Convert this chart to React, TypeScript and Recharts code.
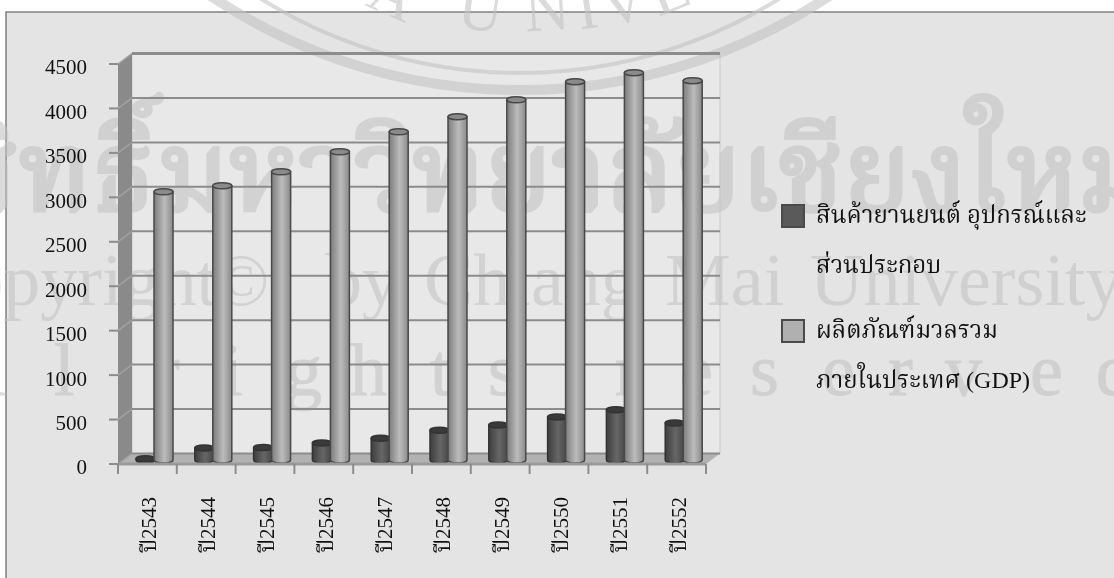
import { Bar, BarChart, CartesianGrid, Legend, XAxis, YAxis } from 'recharts';

const years = ['ปี2543', 'ปี2544', 'ปี2545', 'ปี2546', 'ปี2547', 'ปี2548', 'ปี2549', 'ปี2550', 'ปี2551', 'ปี2552'];
const autoParts = [15, 135, 140, 190, 245, 335, 395, 485, 565, 415];
const gdp = [3018, 3085, 3243, 3468, 3693, 3862, 4053, 4256, 4357, 4267];
const yTicks = [0, 500, 1000, 1500, 2000, 2500, 3000, 3500, 4000, 4500];
const autoPartsName = ['สินค้ายานยนต์ อุปกรณ์และ', 'ส่วนประกอบ'];
const gdpName = ['ผลิตภัณฑ์มวลรวม', 'ภายในประเทศ (GDP)'];

const watermarkThai = 'ลิขสิทธิ์มหาวิทยาลัยเชียงใหม่';
const watermarkWords: [string, number][] = [
  ['Copyright', -83], ['©', 213], ['by', 325], ['Chiang', 424], ['Mai', 665], ['University', 810],
];
const watermarkLetters: [string, number][] = [
  ['l', -14], ['l', 54], ['r', 155], ['i', 222], ['g', 285], ['h', 350], ['t', 430], ['s', 488],
  ['r', 615], ['e', 680], ['s', 750], ['e', 822], ['r', 888], ['v', 945], ['e', 1030], ['d', 1096],
];
const sealLetters: [string, number, number, number][] = [
  ['A', 385, 14, 24], ['U', 478, 30, 8], ['N', 548, 30, -3], ['I', 590, 28, -8], ['V', 628, 22, -14], ['E', 676, 10, -22],
];

const SERIF = '"Liberation Serif", "Noto Serif Thai", serif';
const W = 1114;
const H = 578;
// front plane of the 3D box
const LEFT = 118;
const RIGHT = 706;
const TOP = 64;
const BOTTOM = 464;
const DEPTH_X = 14;
const DEPTH_Y = -10.5;

const Backdrop = () => (
  <svg width={W} height={H} style={{ position: 'absolute', left: 0, top: 0 }}>
    <rect x={6} y={12} width={W} height={H} fill="#e4e4e4" stroke="#808080" strokeWidth={1.5} />
    <polygon
      points={`${LEFT + DEPTH_X},${TOP + DEPTH_Y} ${RIGHT + DEPTH_X},${TOP + DEPTH_Y} ${RIGHT + DEPTH_X},${BOTTOM + DEPTH_Y} ${LEFT + DEPTH_X},${BOTTOM + DEPTH_Y}`}
      fill="#e8e8e8"
      stroke="#c8c8c8"
    />
    {/* seal and ownership text printed across the page */}
    <g fill="none" stroke="#c4c4c4" opacity={0.6}>
      <circle cx={520} cy={-465} r={555} strokeWidth={10} />
      <circle cx={520} cy={-416} r={489} strokeWidth={4} />
    </g>
    <g fontFamily={SERIF} fill="#c4c4c4" opacity={0.6}>
      {sealLetters.map(([ch, x, y, angle]) => (
        <text key={ch} x={x} y={y} fontSize={62} textAnchor="middle" transform={`rotate(${angle} ${x} ${y})`}>
          {ch}
        </text>
      ))}
      <text x={1150} y={210} fontSize={112} textAnchor="end" stroke="#c4c4c4" strokeWidth={4}>
        {watermarkThai}
      </text>
      {watermarkWords.map(([word, x]) => (
        <text key={word} x={x} y={305} fontSize={74}>
          {word}
        </text>
      ))}
      {watermarkLetters.map(([ch, x], i) => (
        <text key={i} x={x} y={395} fontSize={74} stroke="#c4c4c4" strokeWidth={1}>
          {ch}
        </text>
      ))}
    </g>
    <polygon
      points={`${LEFT},${TOP} ${LEFT + DEPTH_X},${TOP + DEPTH_Y} ${LEFT + DEPTH_X},${BOTTOM + DEPTH_Y} ${LEFT},${BOTTOM}`}
      fill="#8a8a8a"
    />
    <polygon
      points={`${LEFT},${BOTTOM} ${LEFT + DEPTH_X},${BOTTOM + DEPTH_Y} ${RIGHT + DEPTH_X},${BOTTOM + DEPTH_Y} ${RIGHT},${BOTTOM}`}
      fill="#b2b2b2"
    />
  </svg>
);

// gridlines run along the back wall, with a faint diagonal across the side wall
const backGridLine = (props: any) => (
  <g key={props.key ?? props.y1}>
    <line x1={props.x1} y1={props.y1} x2={props.x1 + DEPTH_X} y2={props.y1 + DEPTH_Y} stroke="#a0a0a0" strokeWidth={1.5} />
    <line
      x1={props.x1 + DEPTH_X}
      y1={props.y1 + DEPTH_Y}
      x2={props.x2 + DEPTH_X}
      y2={props.y2 + DEPTH_Y}
      stroke="#8c8c8c"
      strokeWidth={props.y1 === TOP ? 3 : 2}
    />
  </g>
);

const Cylinder = (props: any) => {
  const { x, y, width, height, gradient, cap, edge } = props;
  const left = x + 7;
  const right = left + width;
  const top = y - 4;
  const bottom = top + height;
  const ry = 3;
  return (
    <g>
      <path
        d={`M${left},${top} L${left},${bottom} A${width / 2},${ry} 0 0 0 ${right},${bottom} L${right},${top} Z`}
        fill={`url(#${gradient})`}
        stroke={edge}
        strokeWidth={1.5}
      />
      <ellipse cx={left + width / 2} cy={top} rx={width / 2} ry={ry} fill={cap} stroke={edge} strokeWidth={1.5} />
    </g>
  );
};

const YearTick = (props: any) => {
  const { x, index, payload } = props;
  const band = (RIGHT - LEFT) / years.length;
  return (
    <g>
      <line x1={x - band / 2} y1={BOTTOM} x2={x - band / 2} y2={BOTTOM + 10} stroke="#8c8c8c" strokeWidth={2} />
      {index === years.length - 1 && (
        <line x1={x + band / 2} y1={BOTTOM} x2={x + band / 2} y2={BOTTOM + 10} stroke="#8c8c8c" strokeWidth={2} />
      )}
      <text
        x={x + 9}
        y={BOTTOM + 33}
        transform={`rotate(-90 ${x + 9} ${BOTTOM + 33})`}
        fontFamily={SERIF}
        fontSize={21}
        fill="#111"
        textAnchor="end"
      >
        {payload.value}
      </text>
    </g>
  );
};

const LegendBlock = ({ payload }: any) => (
  <div style={{ fontFamily: SERIF, fontSize: 24, color: '#111', width: 320 }}>
    {(payload ?? []).map((entry: any, i: number) => (
      <div key={entry.value} style={{ position: 'relative', paddingLeft: 35, height: 115, lineHeight: '50px', whiteSpace: 'nowrap' }}>
        <span
          style={{
            position: 'absolute',
            left: 0,
            top: 14,
            width: 20,
            height: 20,
            background: i === 0 ? '#5a5a5a' : '#b0b0b0',
            border: '2px solid #4a4a4a',
          }}
        />
        {entry.value.split('|').map((line: string) => (
          <div key={line}>{line}</div>
        ))}
      </div>
    ))}
  </div>
);

export default function App() {
  const data = years.map((year, i) => ({ year, autoParts: autoParts[i], gdp: gdp[i] }));

  return (
    <div style={{ position: 'absolute', left: 0, top: 0, width: W, height: H, overflow: 'hidden' }}>
      <Backdrop />
      <div style={{ position: 'absolute', left: 0, top: 0 }}>
        <BarChart
          width={W}
          height={H}
          data={data}
          margin={{ top: TOP, right: W - RIGHT, bottom: 0, left: 0 }}
          barSize={19}
          barGap={-1}
        >
          <defs>
            <linearGradient id="gdpFill" x1="0" y1="0" x2="1" y2="0">
              <stop offset="0%" stopColor="#7c7c7c" />
              <stop offset="55%" stopColor="#bcbcbc" />
              <stop offset="100%" stopColor="#8a8a8a" />
            </linearGradient>
            <linearGradient id="partsFill" x1="0" y1="0" x2="1" y2="0">
              <stop offset="0%" stopColor="#3e3e3e" />
              <stop offset="55%" stopColor="#666666" />
              <stop offset="100%" stopColor="#474747" />
            </linearGradient>
          </defs>
          <CartesianGrid vertical={false} horizontal={backGridLine} />
          <XAxis
            dataKey="year"
            height={H - BOTTOM}
            tick={<YearTick />}
            tickLine={false}
            axisLine={{ stroke: '#9a9a9a', strokeWidth: 3 }}
            interval={0}
          />
          <YAxis
            width={LEFT}
            domain={[0, 4500]}
            ticks={yTicks}
            interval={0}
            tickSize={9}
            tickMargin={22}
            axisLine={false}
            tickLine={{ stroke: '#8c8c8c', strokeWidth: 2 }}
            tick={{ fontFamily: SERIF, fontSize: 21, fill: '#111', dy: 3 }}
          />
          <Legend
            layout="vertical"
            align="center"
            verticalAlign="middle"
            itemSorter={null}
            content={<LegendBlock />}
            wrapperStyle={{ position: 'absolute', left: 781, top: 190, width: 320, bottom: 'auto', right: 'auto' }}
          />
          <Bar
            dataKey="autoParts"
            name={autoPartsName.join('|')}
            fill="#5a5a5a"
            isAnimationActive={false}
            shape={<Cylinder gradient="partsFill" cap="#3a3a3a" edge="#333333" />}
          />
          <Bar
            dataKey="gdp"
            name={gdpName.join('|')}
            fill="#b0b0b0"
            isAnimationActive={false}
            shape={<Cylinder gradient="gdpFill" cap="#8a8a8a" edge="#484848" />}
          />
        </BarChart>
      </div>
    </div>
  );
}
